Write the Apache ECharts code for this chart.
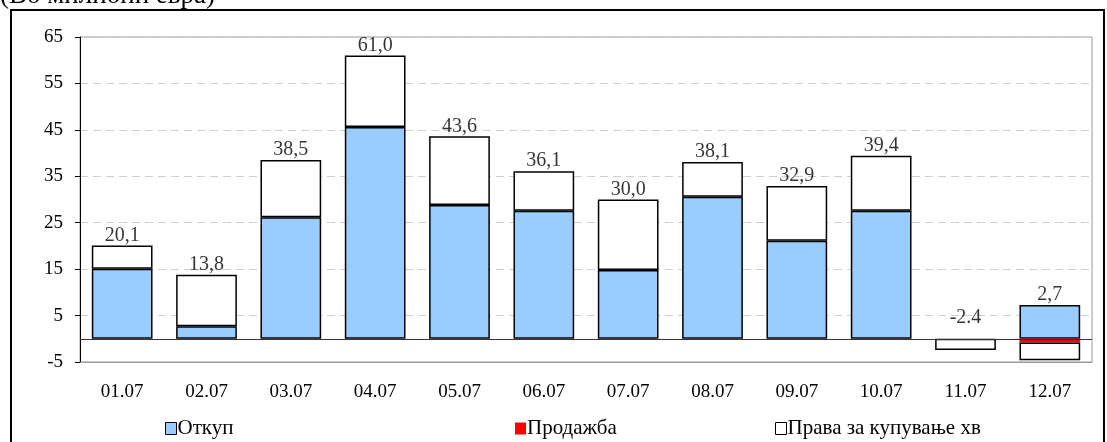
<!DOCTYPE html>
<html>
<head>
<meta charset="utf-8">
<script src="https://cdn.jsdelivr.net/npm/echarts@6/dist/echarts.min.js"></script>
<style>html,body{margin:0;padding:0;background:#fff;}#c{width:1107px;height:442px;}</style>
</head>
<body>
<div id="c"></div>
<script>
const categories = ['01.07','02.07','03.07','04.07','05.07','06.07','07.07','08.07','09.07','10.07','11.07','12.07'];
const otkup    = [15.1, 2.7, 26.2, 45.6, 28.8, 27.6, 14.8, 30.6, 21.1, 27.6, null, 7.3];
const prodazba = [null, null, null, null, null, null, null, null, null, null, null, -0.8];
const prava    = [5.0, 11.1, 12.3, 15.4, 14.8, 8.5, 15.2, 7.5, 11.8, 11.8, -2.4, -3.8];
const totalLabels = ['20,1','13,8','38,5','61,0','43,6','36,1','30,0','38,1','32,9','39,4','-2.4','2,7'];
const yTicks = { min: -5, max: 65, interval: 10 };
const seriesNames = ['Откуп', 'Продажба', 'Права за купување хв'];

// label anchor: top of positive stack, or |total| when nothing is positive
const labelAnchor = categories.map((c, i) => {
  const vals = [otkup[i], prodazba[i], prava[i]].map(v => v == null ? 0 : v);
  const pos = vals.filter(v => v > 0).reduce((a, b) => a + b, 0);
  const tot = vals.reduce((a, b) => a + b, 0);
  return Math.max(pos, Math.abs(tot));
});

const FONT = 'Liberation Serif';
const chart = echarts.init(document.getElementById('c'), null, { renderer: 'canvas' });
const barBase = {
  type: 'bar', stack: 'total', barCategoryGap: '28%',
  animation: false
};
const legendBase = {
  top: 413, itemWidth: 11, itemHeight: 12, itemGap: 2,
  textStyle: { fontFamily: FONT, fontSize: 21, color: '#000', padding: [0, 0, 0, -4] },
  selectedMode: false
};
chart.setOption({
  animation: false,
  backgroundColor: '#fff',
  textStyle: { fontFamily: FONT },
  grid: { left: 80, right: 15, top: 37, bottom: 80, show: true, borderColor: '#999', borderWidth: 1, backgroundColor: '#fff' },
  legend: [
    Object.assign({}, legendBase, { left: 160, data: [{ name: seriesNames[0], icon: 'rect', itemStyle: { color: '#99CCFF', borderColor: '#000', borderWidth: 1 } }] }),
    Object.assign({}, legendBase, { left: 510, data: [{ name: seriesNames[1], icon: 'rect', itemStyle: { color: '#FF0000', borderWidth: 0 } }] }),
    Object.assign({}, legendBase, { left: 770, data: [{ name: seriesNames[2], icon: 'rect', itemStyle: { color: '#fff', borderColor: '#000', borderWidth: 1 } }] })
  ],
  xAxis: {
    type: 'category', data: categories,
    axisLine: { onZero: false, lineStyle: { color: '#999' } },
    axisTick: { show: false },
    axisLabel: { fontFamily: FONT, fontSize: 19, color: '#000', margin: 21 }
  },
  yAxis: {
    type: 'value', min: yTicks.min, max: yTicks.max, interval: yTicks.interval,
    axisLine: { show: true, lineStyle: { color: '#000', width: 1 } },
    axisTick: { show: true, inside: false, length: 5, lineStyle: { color: '#000' } },
    axisLabel: { fontFamily: FONT, fontSize: 19, color: '#000', margin: 17 },
    splitLine: { show: true, lineStyle: { color: '#cfcfcf', type: [8, 5], width: 1 } }
  },
  series: [
    Object.assign({}, barBase, { name: seriesNames[0], data: otkup, itemStyle: { color: '#99CCFF', borderColor: '#000', borderWidth: 1.5 },
      markLine: { silent: true, symbol: 'none', label: { show: false }, lineStyle: { color: '#333', type: 'solid', width: 1 }, data: [{ yAxis: 0 }] } }),
    Object.assign({}, barBase, { name: seriesNames[1], data: prodazba, itemStyle: { color: '#FF0000', borderColor: '#FF0000', borderWidth: 0 } }),
    Object.assign({}, barBase, { name: seriesNames[2], data: prava, itemStyle: { color: '#fff', borderColor: '#000', borderWidth: 1.5 } }),
    {
      type: 'scatter', data: labelAnchor, symbolSize: 0, silent: true, z: 10,
      label: { show: true, position: 'top', distance: 0, fontFamily: FONT, fontSize: 20, color: '#000',
        formatter: p => totalLabels[p.dataIndex] }
    }
  ],
  graphic: [
    { type: 'rect', shape: { x: 11, y: 10, width: 1093, height: 460 }, style: { fill: 'none', stroke: '#000', lineWidth: 2 }, z: 100, silent: true },
    { type: 'text', x: 0, y: -4, style: { text: '(Во милиони евра)', fontFamily: FONT, fontSize: 27, fill: '#000', verticalAlign: 'middle' }, z: 100, silent: true }
  ]
});
</script>
</body>
</html>
